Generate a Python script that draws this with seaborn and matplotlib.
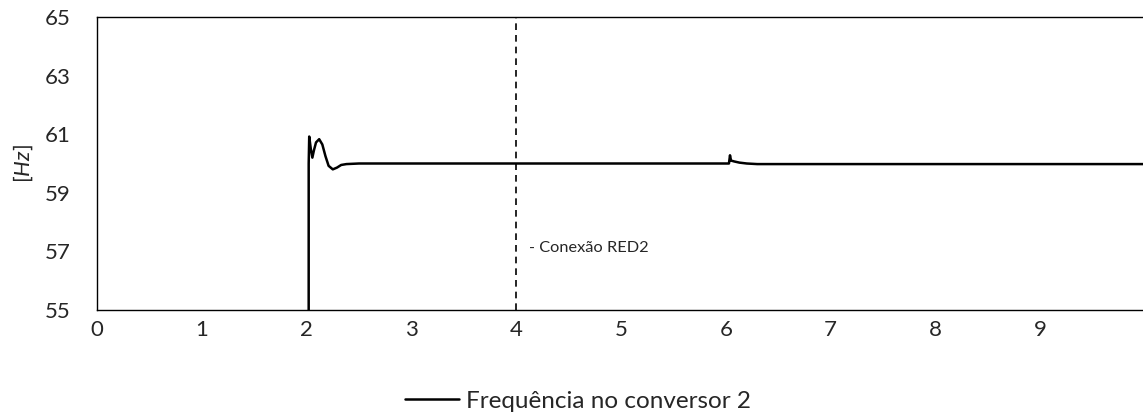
import matplotlib
matplotlib.use("Agg")
import matplotlib.pyplot as plt
import seaborn as sns
import pandas as pd

# Data
time_s = [0.0, 2.018, 2.02, 2.025, 2.04, 2.055, 2.07, 2.09, 2.12, 2.15, 2.18, 2.21,
          2.25, 2.29, 2.33, 2.38, 2.5, 4.0, 6.03, 6.04, 6.05, 6.08, 6.13, 6.2, 6.3, 10.0]
freq_hz = [0.0, 0.0, 60.0, 60.92, 60.5, 60.2, 60.45, 60.72, 60.83, 60.65, 60.25, 59.92,
           59.80, 59.86, 59.95, 59.98, 60.0, 60.0, 60.0, 60.28, 60.1, 60.07, 60.03, 60.0, 59.98, 59.98]
series_label = "Frequência no conversor 2"
event_x = 4.0
event_label = "- Conexão RED2"
y_ticks = [55, 57, 59, 61, 63, 65]
x_ticks = list(range(0, 10))

sns.set_style("white")
plt.rcParams["font.family"] = ["Lato", "DejaVu Sans"]
plt.rcParams["mathtext.fontset"] = "custom"
plt.rcParams["mathtext.rm"] = "Lato"
plt.rcParams["mathtext.it"] = "Lato:italic"

df = pd.DataFrame({"t": time_s, "f": freq_hz})

fig = plt.figure(figsize=(11.43, 4.16), dpi=100)
ax = fig.add_axes([97/1143, 1 - 310/416, (1145 - 97)/1143, (310 - 17)/416])

sns.lineplot(data=df, x="t", y="f", ax=ax, color="black", linewidth=1.8,
             estimator=None, sort=False, label=series_label)

ax.axvline(event_x, color="black", linestyle=(0, (4, 3)), linewidth=1.2)
ax.text(event_x + 0.12, 57.12, event_label, fontsize=11.8, va="center", ha="left")

ax.set_xlim(0, 10)
ax.set_ylim(55, 65)
ax.set_xticks(x_ticks)
ax.set_yticks(y_ticks)
ax.tick_params(axis="both", length=0, labelsize=16)
ax.tick_params(axis="y", pad=19)
ax.tick_params(axis="x", pad=7)
ax.set_xlabel("")
ax.set_ylabel(r"[$\mathit{Hz}$]", fontsize=16, labelpad=7)

for side in ["left", "top", "bottom"]:
    ax.spines[side].set_visible(True)
    ax.spines[side].set_color("black")
    ax.spines[side].set_linewidth(1.0)
ax.spines["right"].set_visible(False)

ax.legend(loc="center", bbox_to_anchor=(578/1143, 1 - 401/416),
          bbox_transform=fig.transFigure, frameon=False, fontsize=17.5,
          handlelength=2.2, handletextpad=0.3)

fig.savefig("out.png", dpi=100)
